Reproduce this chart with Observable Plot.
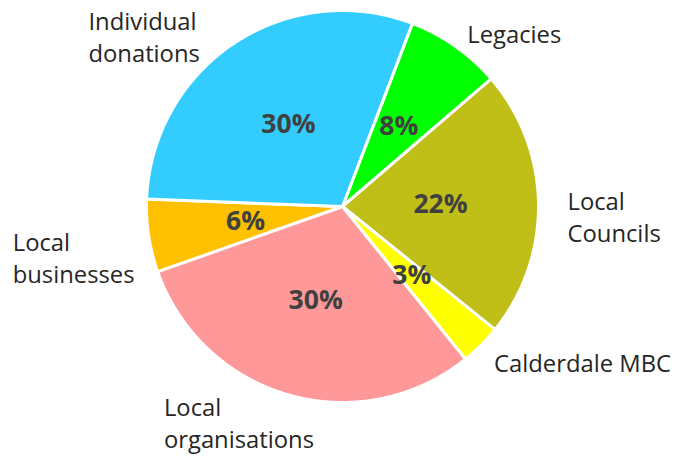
<!DOCTYPE html>
<html>
<head>
<meta charset="utf-8">
<script src="https://cdn.jsdelivr.net/npm/d3@7"></script>
<script src="https://cdn.jsdelivr.net/npm/@observablehq/plot@0.6"></script>
<style>
  html, body { margin: 0; padding: 0; background: #ffffff; }
  #chart svg { display: block; }
</style>
</head>
<body>
<div id="chart"></div>
<script>
// ---- Data ----
const categories = ["Legacies", "Local Councils", "Calderdale MBC", "Local organisations", "Local businesses", "Individual donations"];
const shares = [7.9, 22.1, 3.4, 30.4, 6.0, 30.2];
const percentLabels = ["8%", "22%", "3%", "30%", "6%", "30%"];
const categoryLabels = ["Legacies", "Local\nCouncils", "Calderdale MBC", "Local\norganisations", "Local\nbusinesses", "Individual\ndonations"];

// ---- Style / layout ----
const colors = ["#00FF00", "#BFBF17", "#FFFF00", "#FF9999", "#FFC000", "#33CCFF"];
const startAngleDeg = 20.9;           // first slice starts here (clockwise from 12 o'clock)
const W = 677, H = 456;
const frame = 392;                      // pie diameter in px
const mLeft = 146, mTop = 10;
const pxPerUnit = frame / 2;
// label nudges in px relative to the outer-arc midpoint of each slice
const labelNudge = [[12, -13], [29, 12], [13, 17], [-125, 27], [-136, 21], [-146, -7]];

// ---- Geometry via d3.pie ----
const pie = d3.pie().sort(null).value(d => d)
  .startAngle(startAngleDeg * Math.PI / 180)
  .endAngle(startAngleDeg * Math.PI / 180 + 2 * Math.PI);
const arcs = pie(shares);

const slicePts = [];
arcs.forEach((a, i) => {
  const cat = categories[i];
  slicePts.push({cat, x: 0, y: 0});
  const n = Math.max(2, Math.ceil((a.endAngle - a.startAngle) / (0.25 * Math.PI / 180)));
  for (let k = 0; k <= n; k++) {
    const t = a.startAngle + (a.endAngle - a.startAngle) * k / n;
    slicePts.push({cat, x: Math.sin(t), y: Math.cos(t)});
  }
  slicePts.push({cat, x: 0, y: 0});
});

const pctData = arcs.map((a, i) => {
  const m = (a.startAngle + a.endAngle) / 2;
  return {text: percentLabels[i], x: 0.5 * Math.sin(m), y: 0.5 * Math.cos(m)};
});
const catData = arcs.map((a, i) => {
  const m = (a.startAngle + a.endAngle) / 2;
  return {
    text: categoryLabels[i],
    x: Math.sin(m) + labelNudge[i][0] / pxPerUnit,
    y: Math.cos(m) - labelNudge[i][1] / pxPerUnit
  };
});

const chart = Plot.plot({
  width: W,
  height: H,
  marginLeft: mLeft,
  marginTop: mTop,
  marginRight: W - mLeft - frame,
  marginBottom: H - mTop - frame,
  x: {domain: [-1, 1], axis: null},
  y: {domain: [-1, 1], axis: null},
  color: {domain: categories, range: colors},
  style: {fontFamily: "'Open Sans', sans-serif", background: "#ffffff", overflow: "visible"},
  marks: [
    Plot.line(slicePts, {x: "x", y: "y", z: "cat", fill: "cat", stroke: "#ffffff", strokeWidth: 3, strokeLinejoin: "round", curve: "linear"}),
    Plot.text(pctData, {x: "x", y: "y", text: "text", fontSize: 26.5, fontWeight: "bold", fill: "#404040"}),
    Plot.text(catData, {x: "x", y: "y", text: "text", textAnchor: "start", lineAnchor: "middle", lineHeight: 1.34, fontSize: 23.8, fill: "#262626"})
  ]
});
document.getElementById("chart").appendChild(chart);
</script>
</body>
</html>
